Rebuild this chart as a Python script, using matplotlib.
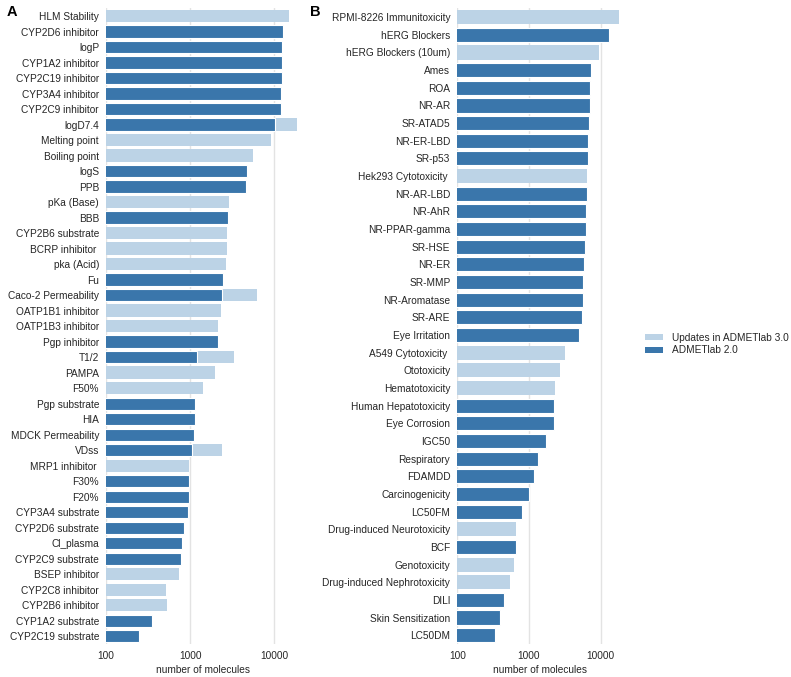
import matplotlib
matplotlib.use("Agg")
import matplotlib.pyplot as plt
import numpy as np
from matplotlib.patches import Patch

# ---------------- data ----------------
cats_a = ["HLM Stability", "CYP2D6 inhibitor", "logP", "CYP1A2 inhibitor", "CYP2C19 inhibitor",
          "CYP3A4 inhibitor", "CYP2C9 inhibitor", "logD7.4", "Melting point", "Boiling point",
          "logS", "PPB", "pKa (Base)", "BBB", "CYP2B6 substrate", "BCRP inhibitor ",
          "pka (Acid)", "Fu", "Caco-2 Permeability", "OATP1B1 inhibitor", "OATP1B3 inhibitor",
          "Pgp inhibitor", "T1/2", "PAMPA", "F50%", "Pgp substrate", "HIA", "MDCK Permeability",
          "VDss", "MRP1 inhibitor ", "F30%", "F20%", "CYP3A4 substrate", "CYP2D6 substrate",
          "Cl_plasma", "CYP2C9 substrate", "BSEP inhibitor", "CYP2C8 inhibitor",
          "CYP2B6 inhibitor", "CYP1A2 substrate", "CYP2C19 substrate"]
# total number of molecules in ADMETlab 3.0
v3_a = [15200, 12800, 12450, 12300, 12300, 12100, 11900, 18800, 9200, 5630,
        4690, 4600, 2910, 2800, 2780, 2730, 2680, 2490, 6330, 2320, 2160,
        2150, 3340, 1985, 1440, 1150, 1135, 1107, 2380, 982, 964, 964, 955, 849,
        811, 789, 739, 518, 537, 356, 249]
# number of molecules in ADMETlab 2.0 (0 = new endpoint)
v2_a = [0, 12800, 12450, 12300, 12300, 12100, 11900, 10100, 0, 0,
        4690, 4600, 0, 2800, 0, 0, 0, 2490, 2400, 0, 0,
        2150, 1200, 0, 0, 1150, 1135, 1107, 1056, 0, 964, 964, 955, 849,
        811, 789, 0, 0, 0, 356, 249]

cats_b = ["RPMI-8226 Immunitoxicity", "hERG Blockers", "hERG Blockers (10um)", "Ames", "ROA",
          "NR-AR", "SR-ATAD5", "NR-ER-LBD", "SR-p53", "Hek293 Cytotoxicity ", "NR-AR-LBD",
          "NR-AhR", "NR-PPAR-gamma", "SR-HSE", "NR-ER", "SR-MMP", "NR-Aromatase", "SR-ARE",
          "Eye Irritation", "A549 Cytotoxicity ", "Ototoxicity", "Hematotoxicity",
          "Human Hepatotoxicity", "Eye Corrosion", "IGC50", "Respiratory", "FDAMDD",
          "Carcinogenicity", "LC50FM", "Drug-induced Neurotoxicity", "BCF", "Genotoxicity",
          "Drug-induced Nephrotoxicity", "DILI", "Skin Sensitization", "LC50DM"]
v3_b = [18000, 13200, 9380, 7260, 7020, 7020, 6870, 6720, 6580, 6500, 6500,
        6240, 6240, 6040, 5910, 5670, 5610, 5420, 4980, 3180, 2710, 2300,
        2210, 2210, 1730, 1350, 1160, 1010, 790, 665, 659, 618, 543, 453, 394, 336]
v2_b = [0, 13200, 0, 7260, 7020, 7020, 6870, 6720, 6580, 0, 6500,
        6240, 6240, 6040, 5910, 5670, 5610, 5420, 4980, 0, 0, 0,
        2210, 2210, 1730, 1350, 1160, 1010, 790, 0, 659, 0, 0, 453, 394, 336]

series_labels = ["Updates in ADMETlab 3.0", "ADMETlab 2.0"]
light = "#bcd3e6"
dark = "#3a76ab"

plt.rcParams["font.family"] = ["Liberation Sans", "DejaVu Sans"]
fs = 7.3

fig = plt.figure(figsize=(7.91, 6.77), dpi=100)
bottom, top = 0.0487, 0.9877
axA = fig.add_axes([106 / 791, bottom, 193.5 / 791, top - bottom])
axB = fig.add_axes([457.3 / 791, bottom, 165 / 791, top - bottom])


def draw(ax, cats, v3, v2):
    n = len(cats)
    y = np.arange(n)
    v3 = np.asarray(v3, float)
    v2 = np.asarray(v2, float)
    ax.barh(y, v3, height=0.8, color=light, left=0, zorder=2, linewidth=0)
    m = v2 > 0
    ax.barh(y[m], v2[m], height=0.8, color=dark, zorder=3,
            edgecolor="white", linewidth=0.8)
    ax.set_xscale("log")
    ax.set_xlim(100, 20000)
    ax.set_ylim(n - 0.5, -0.5)
    ax.set_yticks(y, cats)
    ax.set_xticks([100, 1000, 10000], ["100", "1000", "10000"])
    ax.xaxis.set_minor_locator(matplotlib.ticker.NullLocator())
    ax.tick_params(axis="both", length=0, labelsize=fs, colors="#262626")
    ax.tick_params(axis="y", pad=5)
    ax.tick_params(axis="x", pad=5)
    ax.grid(axis="x", color="#e3e3e3", linewidth=1.0, zorder=0)
    ax.grid(axis="y", visible=False)
    ax.set_axisbelow(True)
    for s in ax.spines.values():
        s.set_visible(False)
    ax.set_xlabel("number of molecules", fontsize=fs, color="#262626", labelpad=3)


draw(axA, cats_a, v3_a, v2_a)
draw(axB, cats_b, v3_b, v2_b)

fig.text(7 / 791, 1 - 12 / 677, "A", fontsize=10.5, fontweight="bold", va="center", ha="left")
fig.text(310 / 791, 1 - 12 / 677, "B", fontsize=10.5, fontweight="bold", va="center", ha="left")

handles = [Patch(facecolor=light, label=series_labels[0]),
           Patch(facecolor=dark, label=series_labels[1])]
fig.legend(handles=handles, loc="center left", bbox_to_anchor=(645 / 791, 1 - 344 / 677),
           frameon=False, fontsize=fs, handlelength=1.8, handleheight=0.55,
           handletextpad=0.9, labelspacing=0.25, borderpad=0, borderaxespad=0,
           labelcolor="#262626")

fig.savefig("out.png", dpi=100)
